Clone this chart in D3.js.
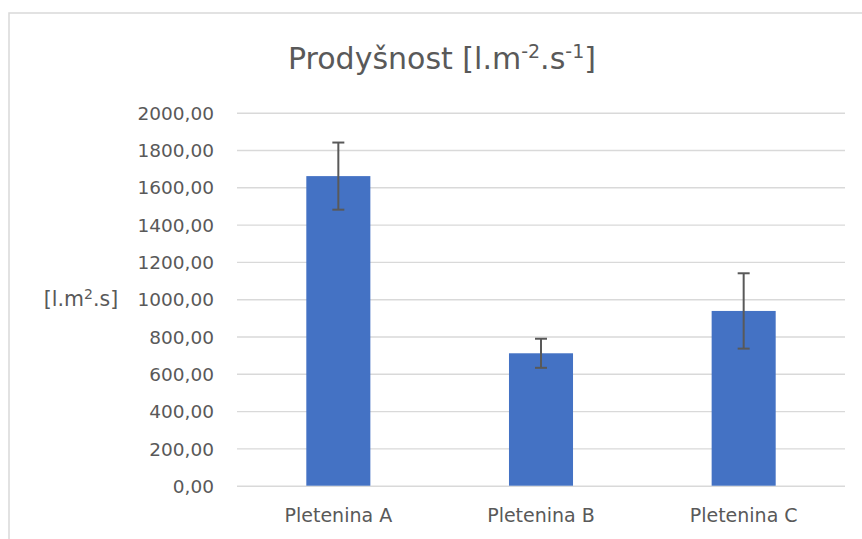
<!DOCTYPE html>
<html><head><meta charset="utf-8">
<script src="https://cdn.jsdelivr.net/npm/d3@7"></script>
<style>body{margin:0;background:#fff}svg{display:block}</style>
</head><body>
<svg id="c" width="862" height="539"></svg>
<script>
const categories = ["Pletenina A", "Pletenina B", "Pletenina C"];
const values = [1660, 710, 937];
const errors = [180, 78, 202];
const yTicks = [0, 200, 400, 600, 800, 1000, 1200, 1400, 1600, 1800, 2000];

const svg = d3.select("#c");
const font = "DejaVu Sans, sans-serif";
const gray = "#595959";
const m = {left: 237, right: 845, top: 112.7, bottom: 485.7};

// outer frame
svg.append("path").attr("d", "M9,539 V13 H862").attr("fill", "none")
  .attr("stroke", "#d9d9d9").attr("stroke-width", 1.5);

const x = d3.scaleBand().domain(categories).range([m.left, m.right]).padding(0);
const y = d3.scaleLinear().domain([0, 2000]).range([m.bottom, m.top]);

// gridlines
const yAxis = d3.axisLeft(y).tickValues(yTicks).tickSize(-(m.right - m.left))
  .tickFormat(d => d3.format(".2f")(d).replace(".", ","));
const ga = svg.append("g").attr("transform", `translate(${m.left},0)`).call(yAxis);
ga.select(".domain").remove();
ga.selectAll(".tick line").attr("stroke", "#d9d9d9").attr("stroke-width", 1.4);
ga.selectAll(".tick text").attr("x", -23).attr("dy", "0.36em")
  .attr("fill", gray).style("font-family", font).style("font-size", "18.5px");

// bars
const bw = x.bandwidth() * 0.316;
svg.append("g").selectAll("rect").data(categories).join("rect")
  .attr("x", (d) => x(d) + x.bandwidth() / 2 - bw / 2)
  .attr("width", bw)
  .attr("y", (d, i) => y(values[i]))
  .attr("height", (d, i) => y(0) - y(values[i]))
  .attr("fill", "#4472C4");

// error bars
const eg = svg.append("g").attr("stroke", gray).attr("stroke-width", 2);
categories.forEach((c, i) => {
  const cx = x(c) + x.bandwidth() / 2;
  const t = y(values[i] + errors[i]), b = y(values[i] - errors[i]);
  eg.append("line").attr("x1", cx).attr("x2", cx).attr("y1", t).attr("y2", b);
  eg.append("line").attr("x1", cx - 6).attr("x2", cx + 6).attr("y1", t).attr("y2", t);
  eg.append("line").attr("x1", cx - 6).attr("x2", cx + 6).attr("y1", b).attr("y2", b);
});

// x labels
const xAxis = d3.axisBottom(x).tickSize(0);
const gx = svg.append("g").attr("transform", `translate(0,${m.bottom})`).call(xAxis);
gx.select(".domain").remove();
gx.selectAll(".tick text").attr("y", 23).attr("dy", "0.71em").attr("fill", gray)
  .style("font-family", font).style("font-size", "19px");

// title
const title = svg.append("text").attr("x", 442).attr("y", 69).attr("text-anchor", "middle")
  .attr("fill", gray).style("font-family", font).style("font-size", "30px");
title.append("tspan").text("Prodyšnost [l.m");
title.append("tspan").attr("dy", -11).style("font-size", "19px").text("-2");
title.append("tspan").attr("dy", 11).text(".s");
title.append("tspan").attr("dy", -11).style("font-size", "19px").text("-1");
title.append("tspan").attr("dy", 11).text("]");

// y axis label
const yl = svg.append("text").attr("x", 81).attr("y", 306).attr("text-anchor", "middle")
  .attr("fill", gray).style("font-family", font).style("font-size", "20.5px");
yl.append("tspan").text("[l.m");
yl.append("tspan").attr("dy", -7).style("font-size", "14px").text("2");
yl.append("tspan").attr("dy", 7).text(".s]");
</script>
</body></html>
